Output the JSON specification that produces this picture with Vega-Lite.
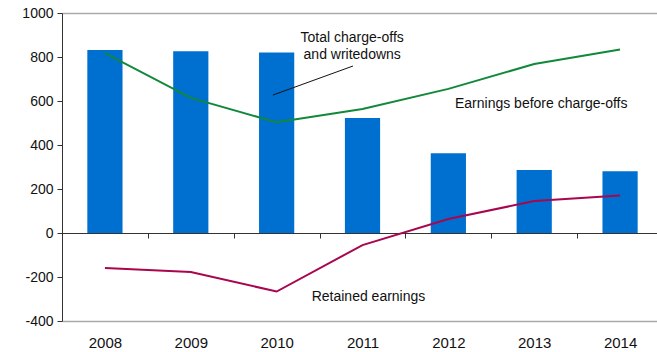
{
  "$schema": "https://vega.github.io/schema/vega-lite/v6.json",
  "width": 595,
  "height": 308,
  "autosize": {"type": "none"},
  "padding": {"left": 62, "top": 13, "right": 0, "bottom": 31},
  "background": "white",
  "config": {
    "view": {"stroke": null},
    "font": "Liberation Sans",
    "axis": {"labelFont": "Liberation Sans", "labelFontSize": 14, "labelColor": "#111"}
  },
  "datasets": {
    "bars": [
      {"year": "2008", "value": 832},
      {"year": "2009", "value": 826},
      {"year": "2010", "value": 820},
      {"year": "2011", "value": 523},
      {"year": "2012", "value": 363},
      {"year": "2013", "value": 286},
      {"year": "2014", "value": 281}
    ],
    "lines": [
      {"year": 2008, "value": 818, "series": "Earnings before charge-offs"},
      {"year": 2009, "value": 614, "series": "Earnings before charge-offs"},
      {"year": 2010, "value": 503, "series": "Earnings before charge-offs"},
      {"year": 2011, "value": 564, "series": "Earnings before charge-offs"},
      {"year": 2012, "value": 655, "series": "Earnings before charge-offs"},
      {"year": 2013, "value": 768, "series": "Earnings before charge-offs"},
      {"year": 2014, "value": 834, "series": "Earnings before charge-offs"},
      {"year": 2008, "value": -159, "series": "Retained earnings"},
      {"year": 2009, "value": -177, "series": "Retained earnings"},
      {"year": 2010, "value": -266, "series": "Retained earnings"},
      {"year": 2011, "value": -55, "series": "Retained earnings"},
      {"year": 2012, "value": 64, "series": "Retained earnings"},
      {"year": 2013, "value": 145, "series": "Retained earnings"},
      {"year": 2014, "value": 171, "series": "Retained earnings"}
    ],
    "centerLabels": [
      {"x": 2010.88, "y": 885, "text": "Total charge-offs"},
      {"x": 2010.88, "y": 807, "text": "and writedowns"}
    ],
    "leftLabels": [
      {"x": 2012.077, "y": 586, "text": "Earnings before charge-offs"},
      {"x": 2010.408, "y": -292, "text": "Retained earnings"}
    ],
    "leader": [
      {"x": 2009.957, "y": 627, "x2": 2010.889, "y2": 759}
    ]
  },
  "layer": [
    {
      "data": {"name": "bars"},
      "mark": {"type": "bar", "color": "#0070d0", "width": {"band": 0.41}},
      "encoding": {
        "x": {
          "field": "year", "type": "ordinal",
          "scale": {"range": [0, 601], "paddingInner": 0, "paddingOuter": 0},
          "axis": {
            "title": null, "orient": "bottom", "offset": -88,
            "labelAngle": 0, "tickBand": "extent", "tickSize": 5,
            "tickColor": "#333", "domainColor": "#333", "domainWidth": 1,
            "labelPadding": 97, "labelFontSize": 15, "grid": false
          }
        },
        "y": {
          "field": "value", "type": "quantitative",
          "scale": {"domain": [-400, 1000], "nice": false, "zero": false},
          "axis": {
            "title": null, "values": [-400, -200, 0, 200, 400, 600, 800, 1000],
            "labelExpr": "'' + datum.value",
            "tickSize": 5, "tickColor": "#333", "domainColor": "#333",
            "labelPadding": 4,
            "grid": true, "gridColor": "#aaaaaa", "gridWidth": 1.5,
            "gridOpacity": {"condition": {"test": "datum.value == 1000 || datum.value == -400", "value": 1}, "value": 0}
          }
        }
      }
    },
    {
      "data": {"name": "lines"},
      "mark": {"type": "line", "strokeWidth": 2},
      "encoding": {
        "x": {"field": "year", "type": "quantitative", "scale": {"domain": [2007.5, 2014.5], "range": [0, 601], "nice": false, "zero": false}, "axis": null},
        "y": {"field": "value", "type": "quantitative"},
        "color": {
          "field": "series", "type": "nominal",
          "scale": {"domain": ["Earnings before charge-offs", "Retained earnings"], "range": ["#11883a", "#a8064f"]},
          "legend": null
        }
      }
    },
    {
      "data": {"name": "leader"},
      "mark": {"type": "rule", "color": "#111", "strokeWidth": 1},
      "encoding": {
        "x": {"field": "x", "type": "quantitative", "scale": {"domain": [2007.5, 2014.5], "range": [0, 601], "nice": false, "zero": false}, "axis": null},
        "x2": {"field": "x2"},
        "y": {"field": "y", "type": "quantitative"},
        "y2": {"field": "y2"}
      }
    },
    {
      "data": {"name": "centerLabels"},
      "mark": {"type": "text", "fontSize": 14, "color": "#111", "baseline": "middle", "align": "center", "font": "Liberation Sans"},
      "encoding": {
        "x": {"field": "x", "type": "quantitative", "scale": {"domain": [2007.5, 2014.5], "range": [0, 601], "nice": false, "zero": false}, "axis": null},
        "y": {"field": "y", "type": "quantitative"},
        "text": {"field": "text"}
      }
    },
    {
      "data": {"name": "leftLabels"},
      "mark": {"type": "text", "fontSize": 14, "color": "#111", "baseline": "middle", "align": "left", "font": "Liberation Sans"},
      "encoding": {
        "x": {"field": "x", "type": "quantitative", "scale": {"domain": [2007.5, 2014.5], "range": [0, 601], "nice": false, "zero": false}, "axis": null},
        "y": {"field": "y", "type": "quantitative"},
        "text": {"field": "text"}
      }
    }
  ],
  "resolve": {"scale": {"x": "independent"}, "axis": {"x": "independent"}}
}
